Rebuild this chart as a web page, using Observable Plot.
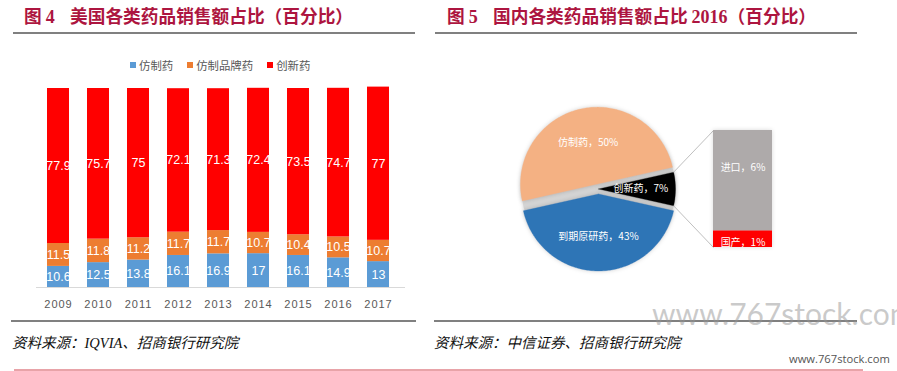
<!DOCTYPE html>
<html>
<head>
<meta charset="utf-8">
<script src="https://cdn.jsdelivr.net/npm/d3@7"></script>
<script src="https://cdn.jsdelivr.net/npm/@observablehq/plot@0.6"></script>
<style>
  body { margin: 0; background: #fff; }
  #page { position: relative; width: 897px; height: 371px; overflow: hidden; background: #fff; font-family: "Noto Sans CJK SC", sans-serif; }
  .abs { position: absolute; white-space: nowrap; }
  .title { color: #AD1540; font-weight: 700; font-size: 17.7px; line-height: 20px; }
  .title .num { font-family: "Liberation Serif", serif; font-weight: 700; font-size: 18px; }
  .rule { position: absolute; height: 2px; background: #808080; }
  .source { font-style: italic; font-size: 14.5px; line-height: 18px; color: #111; font-family: "Noto Sans CJK SC", serif; }
  #legend { display: flex; align-items: center; gap: 14px; font-size: 11.4px; color: #595959; line-height: 14px; }
  #legend .sw { display: inline-block; width: 6px; height: 6px; margin-right: 3px; vertical-align: middle; }
  #legend span.item { display: inline-flex; align-items: center; }
  #bars svg [aria-label="x-axis tick label"] text { letter-spacing: 1px; }
  #pie svg g[aria-label="line"] { filter: drop-shadow(0 0 2px rgba(0,0,0,0.18)); }
  #pie svg g[aria-label="rect"] { filter: drop-shadow(0 0 2px rgba(0,0,0,0.15)); }
</style>
</head>
<body>
<div id="page">
  <div class="abs title" style="left:24px;top:5px;">图 <span class="num">4</span></div>
  <div class="abs title" style="left:70px;top:5px;">美国各类药品销售额占比（百分比）</div>
  <div class="rule" style="left:13px;top:32px;width:402px;"></div>

  <div class="abs title" style="left:447px;top:5px;">图 <span class="num">5</span></div>
  <div class="abs title" style="left:493px;top:5px;">国内各类药品销售额占比 <span class="num">2016</span>（百分比）</div>
  <div class="rule" style="left:435px;top:32px;width:422px;"></div>

  <div id="legend" class="abs" style="left:130px;top:58px;"></div>
  <div id="bars" class="abs" style="left:0px;top:40px;"></div>
  <div id="pie" class="abs" style="left:440px;top:40px;"></div>

  <div class="rule" style="left:11px;top:320px;width:405px;"></div>
  <div class="rule" style="left:434px;top:320px;width:423px;"></div>

  <div class="abs" style="left:652px;top:298px;font-family:'Lato',sans-serif;font-size:30px;line-height:30px;color:rgba(150,150,150,0.5);">www.767stock.com</div>

  <div class="abs source" style="left:12px;top:333px;">资料来源：<span style="font-family:'Liberation Serif',serif;">IQVIA</span>、招商银行研究院</div>
  <div class="abs source" style="left:434px;top:333px;">资料来源：中信证券、招商银行研究院</div>

  <div class="abs" style="left:789px;top:352px;font-family:'Open Sans',sans-serif;font-size:11.2px;line-height:14px;color:#555;">www.767stock.com</div>
  <div class="abs" style="left:14px;top:369px;width:849px;height:1.5px;background:#E8A3A8;"></div>
</div>
<script>
// ---------- Data: Figure 4 (US drug sales share, %) ----------
const years = ["2009", "2010", "2011", "2012", "2013", "2014", "2015", "2016", "2017"];
const genericShare = [10.6, 12.5, 13.8, 16.1, 16.9, 17, 16.1, 14.9, 13];
const brandedGenericShare = [11.5, 11.8, 11.2, 11.7, 11.7, 10.7, 10.4, 10.5, 10.7];
const innovativeShare = [77.9, 75.7, 75, 72.1, 71.3, 72.4, 73.5, 74.7, 77];
const seriesNames = ["仿制药", "仿制品牌药", "创新药"];
const seriesColors = ["#5B9BD5", "#ED7D31", "#FF0000"];

// ---------- Data: Figure 5 (China 2016, %) ----------
const pieNames = ["仿制药", "到期原研药", "创新药"];
const pieValues = [50, 43, 7];
const pieColors = ["#F4B183", "#2E75B6", "#000000"];
const subNames = ["进口", "国产"];
const subValues = [6, 1];
const subColors = ["#AEAAAA", "#FF0000"];

// ---------- Legend ----------
const legend = document.getElementById("legend");
seriesNames.forEach((n, i) => {
  const item = document.createElement("span");
  item.className = "item";
  item.innerHTML = `<span class="sw" style="background:${seriesColors[i]}"></span>${n}`;
  legend.appendChild(item);
});

// ---------- Stacked bar chart ----------
const seriesArrays = [genericShare, brandedGenericShare, innovativeShare];
const rows = years.flatMap((year, j) =>
  seriesNames.map((series, i) => ({year, series, value: seriesArrays[i][j]}))
);

const bars = Plot.plot({
  width: 430,
  height: 275,
  marginLeft: 36,
  marginRight: 25,
  marginTop: 48,
  marginBottom: 28,
  style: {background: "transparent", fontFamily: "'Liberation Sans', Arial, sans-serif", overflow: "visible"},
  x: {domain: years, range: [27, 408], padding: 0.45, label: null},
  y: {domain: [0, 100], axis: null},
  color: {domain: seriesNames, range: seriesColors},
  marks: [
    Plot.ruleY([0], {stroke: "#d9d9d9", strokeWidth: 1}),
    Plot.barY(rows, {x: "year", y: "value", fill: "series"}),
    Plot.text(rows, Plot.stackY({x: "year", y: "value", z: "series", text: d => String(d.value), fill: "white", fontSize: 12.5})),
    Plot.axisX({tickSize: 0, tickPadding: 13, fontSize: 11, color: "#595959", label: null})
  ]
});
document.getElementById("bars").appendChild(bars);

// ---------- Pie-of-pie ----------
const R = 77;                 // pie radius (px units)
const explodeNames = ["仿制药", "到期原研药"];
const explodeOffset = 5;
const labelFrac = 0.55;
const barLeft = 115, barWidth = 59, barHalfHeight = 58.5;
const rad = a => a * Math.PI / 180;

const total = d3.sum(pieValues);
const splitIndex = pieNames.indexOf("创新药");
const halfSplit = pieValues[splitIndex] / total * 180;
let start = halfSplit;
const slices = pieNames.map((name, i) => {
  const sweep = pieValues[i] / total * 360;
  const a0 = i === splitIndex ? -halfSplit : start;
  const a1 = a0 + sweep;
  if (i !== splitIndex) start += sweep;
  const mid = (a0 + a1) / 2;
  const off = explodeNames.includes(name) ? explodeOffset : 0;
  const cx = off * Math.cos(rad(mid)), cy = off * Math.sin(rad(mid));
  const n = Math.ceil(sweep);
  const pts = [{x: cx, y: cy}];
  for (let k = 0; k <= n; k++) {
    const a = rad(a0 + (a1 - a0) * k / n);
    pts.push({x: cx + R * Math.cos(a), y: cy + R * Math.sin(a)});
  }
  pts.push({x: cx, y: cy});
  return {
    name, value: pieValues[i], color: pieColors[i], a0, a1, pts,
    lx: cx + R * labelFrac * Math.cos(rad(mid)),
    ly: cy + R * labelFrac * Math.sin(rad(mid))
  };
});

const disk = d3.range(0, 361, 2).map(a => ({x: R * Math.cos(rad(a)), y: R * Math.sin(rad(a))}));

// secondary stacked bar
const subTotal = d3.sum(subValues);
let yCursor = -barHalfHeight;
const subRows = subNames.map((name, i) => ({name, value: subValues[i], color: subColors[i]})).reverse().map(d => {
  const h = d.value / subTotal * 2 * barHalfHeight;
  const r = {...d, y1: yCursor, y2: yCursor + h, ymid: yCursor + h / 2};
  yCursor += h;
  return r;
});

const split = slices[splitIndex];
const links = [
  {x1: R * Math.cos(rad(split.a1)), y1: R * Math.sin(rad(split.a1)), x2: barLeft, y2: barHalfHeight},
  {x1: R * Math.cos(rad(split.a0)), y1: R * Math.sin(rad(split.a0)), x2: barLeft, y2: -barHalfHeight}
];

const cxLocal = 158, cyLocal = 148.5, W = 417, H = 275;
const pie = Plot.plot({
  width: W,
  height: H,
  margin: 0,
  style: {background: "transparent", fontFamily: "'Noto Sans CJK SC', sans-serif", overflow: "visible"},
  x: {domain: [-cxLocal, W - cxLocal], axis: null},
  y: {domain: [-(H - cyLocal), cyLocal], axis: null},
  marks: [
    Plot.line(disk, {x: "x", y: "y", fill: "#d4d4d4", stroke: "none"}),
    ...slices.map(s => Plot.line(s.pts, {x: "x", y: "y", fill: s.color, stroke: s.color, strokeWidth: 0.3, curve: "linear"})),
    Plot.link(links, {x1: "x1", y1: "y1", x2: "x2", y2: "y2", stroke: "#bfbfbf", strokeWidth: 1}),
    Plot.rect(subRows, {x1: barLeft, x2: barLeft + barWidth, y1: "y1", y2: "y2", fill: "color"}),
    Plot.text(slices, {x: "lx", y: "ly", text: d => `${d.name}，${d.value}%`, fill: "white", fontSize: 10}),
    Plot.text(subRows.filter(d => d.name === "进口"), {x: barLeft + barWidth / 2, y: "ymid", dy: -12.5, text: d => `${d.name}，${d.value}%`, fill: "white", fontSize: 10}),
    Plot.text(subRows.filter(d => d.name === "国产"), {x: barLeft + barWidth / 2, y: "ymid", dy: 4, text: d => `${d.name}，${d.value}%`, fill: "white", fontSize: 10})
  ]
});
document.getElementById("pie").appendChild(pie);
</script>
</body>
</html>
